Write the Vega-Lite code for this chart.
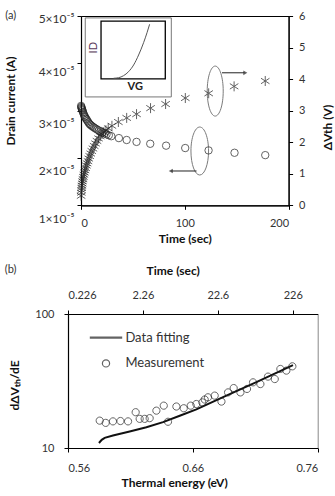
{
  "$schema": "https://vega.github.io/schema/vega-lite/v6.json",
  "background": "white",
  "padding": {"left": 4, "top": 9, "right": 0, "bottom": 0},
  "spacing": 18,
  "resolve": {"scale": {"shape": "independent"}, "legend": {"shape": "independent"}},
  "config": {
    "font": "Lato",
    "axis": {"labelFont": "Lato", "labelFontSize": 11, "labelColor": "#333", "titleFont": "Lato", "titleFontSize": 12, "titleFontWeight": "bold", "titleColor": "#111", "domainColor": "#000", "tickColor": "#000", "tickSize": 4, "grid": false, "domainWidth": 1.2}
  },
  "datasets": {
    "circlesA": [
      {"t":0.1,"I":3.10e-5},{"t":0.3,"I":3.08e-5},{"t":0.5,"I":3.06e-5},{"t":0.8,"I":3.04e-5},{"t":1.1,"I":3.02e-5},
      {"t":1.5,"I":3.00e-5},{"t":1.9,"I":2.97e-5},{"t":2.4,"I":2.94e-5},{"t":2.9,"I":2.91e-5},{"t":3.5,"I":2.88e-5},
      {"t":4.1,"I":2.86e-5},{"t":4.8,"I":2.83e-5},{"t":5.5,"I":2.81e-5},{"t":6.3,"I":2.78e-5},{"t":7.2,"I":2.75e-5},
      {"t":8.1,"I":2.72e-5},{"t":9.1,"I":2.70e-5},{"t":10.2,"I":2.68e-5},{"t":11.4,"I":2.66e-5},{"t":12.7,"I":2.64e-5},
      {"t":14.1,"I":2.62e-5},{"t":15.6,"I":2.60e-5},{"t":17.2,"I":2.58e-5},{"t":18.9,"I":2.56e-5},{"t":20.7,"I":2.54e-5},
      {"t":22.6,"I":2.52e-5},{"t":24.6,"I":2.50e-5},{"t":26.8,"I":2.48e-5},{"t":29.2,"I":2.46e-5},{"t":36.5,"I":2.42e-5},
      {"t":44,"I":2.38e-5},{"t":53.5,"I":2.34e-5},{"t":66.7,"I":2.30e-5},{"t":82,"I":2.26e-5},{"t":100.4,"I":2.21e-5},
      {"t":122.9,"I":2.16e-5},{"t":147.9,"I":2.11e-5},{"t":177.5,"I":2.06e-5}
    ],
    "starsA": [
      {"t":0.1,"V":0.30},{"t":0.3,"V":0.40},{"t":0.5,"V":0.48},{"t":0.7,"V":0.55},{"t":0.9,"V":0.62},
      {"t":1.2,"V":0.69},{"t":1.5,"V":0.76},{"t":1.9,"V":0.83},{"t":2.3,"V":0.90},{"t":2.8,"V":0.97},
      {"t":3.3,"V":1.04},{"t":3.9,"V":1.11},{"t":4.5,"V":1.18},{"t":5.2,"V":1.26},{"t":5.9,"V":1.33},
      {"t":6.7,"V":1.40},{"t":7.5,"V":1.48},{"t":8.4,"V":1.56},{"t":9.4,"V":1.64},{"t":10.4,"V":1.72},
      {"t":11.5,"V":1.80},{"t":12.7,"V":1.88},{"t":14.0,"V":1.96},{"t":15.4,"V":2.04},{"t":16.9,"V":2.12},
      {"t":18.5,"V":2.19},{"t":20.2,"V":2.26},{"t":22.0,"V":2.32},{"t":24.0,"V":2.38},{"t":26.2,"V":2.44},
      {"t":29.8,"V":2.52},{"t":36,"V":2.64},{"t":44,"V":2.77},{"t":53.5,"V":2.89},{"t":67,"V":3.08},
      {"t":81.5,"V":3.21},{"t":100.5,"V":3.40},{"t":123,"V":3.55},{"t":147.5,"V":3.77},{"t":177.5,"V":3.94}
    ],
    "insetCurve": [
      {"t":31.4,"I":3.684e-5},{"t":36.2,"I":3.696e-5},{"t":41.0,"I":3.739e-5},{"t":45.8,"I":3.823e-5},
      {"t":50.7,"I":3.965e-5},{"t":55.5,"I":4.176e-5},{"t":60.3,"I":4.436e-5},{"t":63.6,"I":4.647e-5},{"t":66.1,"I":4.825e-5}
    ],
    "fitB": [
      {"E":0.5848,"v":10.9},{"E":0.5870,"v":11.5},{"E":0.5894,"v":11.9},{"E":0.596,"v":12.4},{"E":0.6094,"v":13.3},
      {"E":0.6228,"v":14.3},{"E":0.6361,"v":15.6},{"E":0.6495,"v":17.4},{"E":0.6628,"v":19.4},{"E":0.6842,"v":24.0},
      {"E":0.7109,"v":31.0},{"E":0.7402,"v":41.5}
    ],
    "measB": [
      {"E":0.5854,"v":16.0},{"E":0.5902,"v":15.4},{"E":0.5960,"v":15.8},{"E":0.6020,"v":15.9},{"E":0.6081,"v":15.8},
      {"E":0.6142,"v":18.5},{"E":0.6174,"v":16.5},{"E":0.6214,"v":16.5},{"E":0.6254,"v":16.7},{"E":0.6308,"v":19.0},
      {"E":0.6367,"v":20.7},{"E":0.6401,"v":15.7},{"E":0.6468,"v":20.4},{"E":0.6527,"v":19.8},{"E":0.6583,"v":20.7},
      {"E":0.6628,"v":21.3},{"E":0.6676,"v":21.9},{"E":0.6695,"v":23.0},{"E":0.6721,"v":23.9},{"E":0.6775,"v":24.6},
      {"E":0.6829,"v":22.2},{"E":0.6882,"v":26.0},{"E":0.6927,"v":28.0},{"E":0.6981,"v":26.0},{"E":0.7034,"v":27.6},
      {"E":0.7082,"v":30.9},{"E":0.7141,"v":30.0},{"E":0.7202,"v":34.1},{"E":0.7256,"v":32.7},{"E":0.7301,"v":38.9},
      {"E":0.7349,"v":37.8},{"E":0.7397,"v":40.7}
    ]
  },
  "vconcat": [
    {
      "hconcat": [
        {
          "width": 12.4,
          "height": 189.3,
          "view": {"stroke": null},
          "data": {"values": [{"z": 0}]},
          "mark": {"type": "point", "opacity": 0}
        },
        {
          "width": 207.6,
          "height": 189.3,
          "view": {"stroke": "#000"},
          "encoding": {
            "x": {"field": "t", "type": "quantitative", "scale": {"domain": [0, 200], "nice": false, "zero": false},
                  "axis": {"values": [0, 100, 200], "title": "Time (sec)", "titleY": 32.7, "titleBaseline": "middle", "labelPadding": 8}}
          },
          "layer": [
            {
              "encoding": {
                "y": {"field": "I", "type": "quantitative", "scale": {"domain": [1e-5, 5e-5], "nice": false, "zero": false},
                      "axis": {"orient": "left", "values": [1e-5, 2e-5, 3e-5, 4e-5, 5e-5],
                               "labelExpr": "format(datum.value*1e5,'.0f') + '×10⁻⁵'", "labelFontSize": 12, "labelPadding": 3,
                               "labelOffset": {"condition": [{"test": "datum.value > 4.5e-5", "value": 2}, {"test": "datum.value > 3.5e-5", "value": 8}], "value": 13},
                               "title": "Drain current (A)", "titleX": -70.2, "titleY": 84.5, "titleAngle": 270, "titleBaseline": "middle"}}
              },
              "layer": [
                {"data": {"values": [{"t": -72.9, "I": 5e-5, "label": "(a)"}]},
                 "mark": {"type": "text", "align": "left", "baseline": "middle", "clip": false, "font": "Lato", "fontSize": 11, "color": "#333"},
                 "encoding": {"text": {"field": "label"}}},
                {"data": {"values": [{"t": 4.1, "t2": 87, "I": 3.29e-5, "I2": 4.96e-5}]},
                 "mark": {"type": "rect", "fill": "white", "stroke": "#777", "strokeWidth": 1},
                 "encoding": {"x2": {"field": "t2"}, "y2": {"field": "I2"}}},
                {"data": {"values": [{"t": 19.3, "t2": 81.2, "I": 3.67e-5, "I2": 4.89e-5}]},
                 "mark": {"type": "rect", "fill": "transparent", "stroke": "#000", "strokeWidth": 1.3},
                 "encoding": {"x2": {"field": "t2"}, "y2": {"field": "I2"}}},
                {"data": {"name": "insetCurve"},
                 "mark": {"type": "line", "color": "#555", "strokeWidth": 1, "interpolate": "monotone"},
                 "encoding": {}},
                {"data": {"values": [{"t": 12.9, "I": 4.33e-5, "label": "ID"}]},
                 "mark": {"type": "text", "angle": 270, "font": "Lato", "fontSize": 11, "color": "#5a3a5a"},
                 "encoding": {"text": {"field": "label"}}},
                {"data": {"values": [{"t": 52.3, "I": 3.50e-5, "label": "VG"}]},
                 "mark": {"type": "text", "font": "Lato", "fontSize": 11, "fontWeight": "bold", "color": "#222"},
                 "encoding": {"text": {"field": "label"}}},
                {"data": {"name": "circlesA"},
                 "mark": {"type": "point", "shape": "circle", "filled": false, "stroke": "#222", "strokeWidth": 1, "size": 55},
                 "encoding": {}},
                {"data": {"values": [{"t": 114.4, "I": 2.147e-5}]},
                 "mark": {"type": "point", "shape": "M0,-1A0.367,1 0 1,0 0,1A0.367,1 0 1,0 0,-1", "filled": false, "stroke": "#444", "strokeWidth": 1, "size": 2304},
                 "encoding": {}},
                {"data": {"values": [{"t": 111.3, "t2": 87, "I": 1.725e-5}]},
                 "mark": {"type": "rule", "color": "#222", "strokeWidth": 1},
                 "encoding": {"x2": {"field": "t2"}}},
                {"data": {"values": [{"t": 86.5, "I": 1.725e-5}]},
                 "mark": {"type": "point", "shape": "triangle-left", "filled": true, "color": "#222", "size": 22},
                 "encoding": {}}
              ]
            },
            {
              "encoding": {
                "y": {"field": "V", "type": "quantitative", "scale": {"domain": [0, 6], "nice": false, "zero": false},
                      "axis": {"orient": "right", "values": [0, 1, 2, 3, 4, 5, 6], "labelPadding": 6,
                               "title": "ΔVth (V)", "titleX": 39.2, "titleY": 111, "titleAngle": 270, "titleBaseline": "middle"}}
              },
              "layer": [
                {"data": {"name": "starsA"},
                 "mark": {"type": "point", "shape": "M0,-1L0,1M-0.85,-0.55L0.85,0.55M-0.85,0.55L0.85,-0.55", "filled": false, "stroke": "#222", "strokeWidth": 1, "size": 100},
                 "encoding": {}},
                {"data": {"values": [{"t": 129.3, "V": 3.62}]},
                 "mark": {"type": "point", "shape": "M0,-1A0.32,1 0 1,0 0,1A0.32,1 0 1,0 0,-1", "filled": false, "stroke": "#444", "strokeWidth": 1, "size": 2500},
                 "encoding": {}},
                {"data": {"values": [{"t": 135.8, "t2": 157.5, "V": 4.2}]},
                 "mark": {"type": "rule", "color": "#222", "strokeWidth": 1},
                 "encoding": {"x2": {"field": "t2"}}},
                {"data": {"values": [{"t": 158.3, "V": 4.2}]},
                 "mark": {"type": "point", "shape": "triangle-right", "filled": true, "color": "#222", "size": 22},
                 "encoding": {}}
              ]
            }
          ],
          "resolve": {"scale": {"y": "independent"}}
        }
      ],
      "spacing": 0,
      "bounds": "flush"
    },
    {
      "width": 249.7,
      "height": 134,
      "view": {"stroke": "#888"},
      "layer": [
        {
          "encoding": {
            "x": {"field": "E", "type": "quantitative", "scale": {"domain": [0.56, 0.76], "nice": false, "zero": false},
                  "axis": {"orient": "bottom", "values": [0.56, 0.66, 0.76], "format": ".2f", "labelPadding": 10,
                           "title": "Thermal energy (eV)", "titleX": 106.2, "titleY": 34.3, "titleBaseline": "middle"}},
            "y": {"field": "v", "type": "quantitative", "scale": {"type": "log", "domain": [10, 100], "nice": false},
                  "axis": {"orient": "left", "values": [10, 100], "format": "d", "labelPadding": 10,
                           "title": "dΔVₜₕ/dE", "titleX": -53.3, "titleY": 71, "titleAngle": 270, "titleBaseline": "middle"}}
          },
          "layer": [
            {"data": {"values": [{"E": 0.5093, "v": 211.8, "label": "(b)"}]},
             "mark": {"type": "text", "align": "left", "baseline": "middle", "clip": false, "font": "Lato", "fontSize": 11, "color": "#333"},
             "encoding": {"text": {"field": "label"}}},
            {"data": {"name": "fitB"},
             "mark": {"type": "line", "color": "#111", "strokeWidth": 2},
             "encoding": {}},
            {"data": {"name": "measB"},
             "mark": {"type": "point", "filled": false, "stroke": "#222", "strokeWidth": 1, "size": 144},
             "encoding": {
               "shape": {"datum": "Measurement", "type": "nominal",
                         "scale": {"domain": ["Data fitting", "Measurement"],
                                   "range": ["M-2.6,-0.08L2.6,-0.08L2.6,0.08L-2.6,0.08Z", "M0.6,0A0.6,0.6 0 1,1 -0.6,0A0.6,0.6 0 1,1 0.6,0"]},
                         "legend": {"orient": "none", "legendX": 31, "legendY": 16.7, "title": null, "symbolSize": 144,
                                    "symbolStrokeWidth": 1.2, "symbolStrokeColor": "#222", "symbolFillColor": "transparent",
                                    "labelOffset": 12.4, "rowPadding": 11.7, "labelFont": "Lato", "labelFontSize": 13,
                                    "labelColor": "#333", "padding": 0}}
             }}
          ]
        },
        {
          "data": {"values": [{"time": 0.226}, {"time": 226}]},
          "mark": {"type": "point", "opacity": 0},
          "encoding": {
            "x": {"field": "time", "type": "quantitative", "scale": {"type": "log", "domain": [0.226, 486.9], "nice": false},
                  "axis": {"orient": "top", "values": [0.226, 2.26, 22.6, 226], "labelExpr": "format(datum.value, '~g')",
                           "labelPadding": 10, "title": "Time (sec)", "titleX": 104.7, "titleY": -43.7, "titleBaseline": "middle"}}
          }
        }
      ],
      "resolve": {"scale": {"x": "independent"}}
    }
  ]
}
